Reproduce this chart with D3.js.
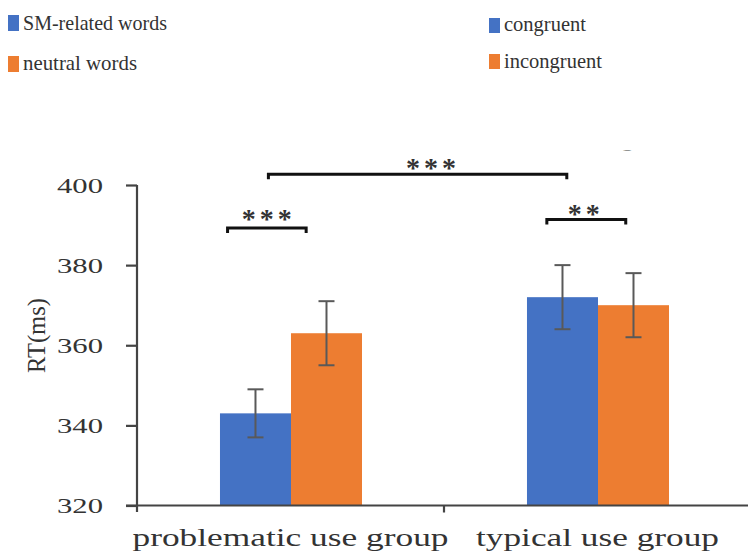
<!DOCTYPE html>
<html>
<head>
<meta charset="utf-8">
<script src="https://cdn.jsdelivr.net/npm/d3@7"></script>
<style>
  html, body { margin: 0; padding: 0; background: #fff; }
  svg { display: block; }
  text { font-family: "Liberation Serif", "DejaVu Serif", serif; fill: #333; }
</style>
</head>
<body>
<svg id="chart" width="748" height="553"></svg>
<script>
// ---- data ----
const groups = ["problematic use group", "typical use group"];
const seriesNames = ["SM-related words", "neutral words"];
const conditionNames = ["congruent", "incongruent"];
const blueValues = [343, 372];
const orangeValues = [363, 370];
const blueErrors = [6, 8];
const orangeErrors = [8, 8];
const yTicks = [320, 340, 360, 380, 400];
const colors = ["#4472C4", "#ED7D31"];
// significance brackets: group index + fraction of band, y in ms
const sigGroupA = [0, 1, 0];
const sigFracA = [0.295, 0.335, 0.428];
const sigGroupB = [0, 1, 1];
const sigFracB = [0.551, 0.592, 0.400];
const sigLevel = [389.25, 391.4, 402.7];
const sigLabels = ["***", "**", "***"];
const sigLabelShift = [0, -0.004, 0.022];
const sigLabelRaise = [0, 4, 3];

const svg = d3.select("#chart");

// ---- scales ----
const x = d3.scaleBand().domain(groups).range([137, 751]).paddingInner(0).paddingOuter(0);
const xSub = d3.scaleBand().domain([0, 1]).range([x.bandwidth() * 0.2703, x.bandwidth() * 0.7329]).padding(0);
const y = d3.scaleLinear().domain([320, 400]).range([505.5, 185]);

// ---- bars ----
const barData = [];
groups.forEach((g, i) => {
  barData.push({ g, s: 0, v: blueValues[i], e: blueErrors[i] });
  barData.push({ g, s: 1, v: orangeValues[i], e: orangeErrors[i] });
});

svg.append("g").selectAll("rect").data(barData).join("rect")
  .attr("x", d => x(d.g) + xSub(d.s))
  .attr("y", d => y(d.v))
  .attr("width", xSub.bandwidth())
  .attr("height", d => y(320) - y(d.v))
  .attr("fill", d => colors[d.s]);

// ---- error bars ----
const eb = svg.append("g").attr("stroke", "#595959").attr("stroke-width", 2);
barData.forEach(d => {
  const cx = x(d.g) + xSub(d.s) + xSub.bandwidth() / 2;
  eb.append("line").attr("x1", cx).attr("x2", cx).attr("y1", y(d.v + d.e)).attr("y2", y(d.v - d.e));
  eb.append("line").attr("x1", cx - 8).attr("x2", cx + 8).attr("y1", y(d.v + d.e)).attr("y2", y(d.v + d.e));
  eb.append("line").attr("x1", cx - 8).attr("x2", cx + 8).attr("y1", y(d.v - d.e)).attr("y2", y(d.v - d.e));
});

// ---- axes ----
const yAxis = svg.append("g").attr("transform", "translate(137,0)")
  .call(d3.axisLeft(y).tickValues(yTicks).tickSize(11).tickPadding(23).tickFormat(d3.format("d")));
yAxis.select(".domain").attr("stroke", "#444").attr("stroke-width", 2.2).attr("d", "M0,185V512");
yAxis.selectAll(".tick line").attr("stroke", "#444").attr("stroke-width", 2.2);
yAxis.selectAll(".tick text")
  .attr("font-size", 22).attr("fill", "#333")
  .attr("font-family", "Liberation Serif, serif")
  .attr("textLength", 46).attr("lengthAdjust", "spacingAndGlyphs");

const xAxis = svg.append("g").attr("transform", "translate(0,505.5)")
  .call(d3.axisBottom(x).tickSize(0).tickPadding(0));
xAxis.select(".domain").attr("stroke", "#444").attr("stroke-width", 2.2).attr("d", "M126,0H748");
xAxis.selectAll(".tick text").remove();
// band-boundary ticks
svg.append("g").selectAll("line").data([groups[1]]).join("line")
  .attr("x1", d => x(d)).attr("x2", d => x(d))
  .attr("y1", 505.5).attr("y2", 512.5)
  .attr("stroke", "#444").attr("stroke-width", 2.2);
// group labels
const xLabelLen = [316, 243];
svg.append("g").selectAll("text").data(groups).join("text")
  .attr("x", d => x(d) + x.bandwidth() / 2)
  .attr("y", 546)
  .attr("text-anchor", "middle")
  .attr("font-size", 26)
  .attr("fill", "#222")
  .attr("textLength", (d, i) => xLabelLen[i])
  .attr("lengthAdjust", "spacingAndGlyphs")
  .text(d => d);

// y-axis title
svg.append("text")
  .attr("transform", "translate(45,335.5) rotate(-90)")
  .attr("text-anchor", "middle")
  .attr("font-size", 25)
  .attr("fill", "#222")
  .attr("textLength", 75).attr("lengthAdjust", "spacingAndGlyphs")
  .text("RT(ms)");

// ---- significance brackets ----
const sg = svg.append("g");
sigLabels.forEach((lab, i) => {
  const xa = x(groups[sigGroupA[i]]) + x.bandwidth() * sigFracA[i];
  const xb = x(groups[sigGroupB[i]]) + x.bandwidth() * sigFracB[i];
  const yy = y(sigLevel[i]);
  sg.append("path")
    .attr("d", `M${xa},${yy + 5}V${yy}H${xb}V${yy + 5}`)
    .attr("fill", "none").attr("stroke", "#111").attr("stroke-width", 3);
  const mid = (xa + xb) / 2 + (x.range()[1] - x.range()[0]) * sigLabelShift[i];
  sg.append("text")
    .attr("x", mid).attr("y", yy + sigLabelRaise[i])
    .attr("dx", 2)
    .attr("text-anchor", "middle")
    .attr("font-family", "DejaVu Sans, sans-serif")
    .attr("font-weight", "bold")
    .attr("font-size", 28)
    .attr("letter-spacing", 4)
    .attr("fill", "#333")
    .text(lab);
});

// clipped remnant of a cropped title letter
svg.append("clipPath").attr("id", "clipG").append("rect").attr("x", 600).attr("y", 150.5).attr("width", 60).attr("height", 12);
svg.append("text").attr("clip-path", "url(#clipG)")
  .attr("x", 621).attr("y", 146).attr("font-size", 26).attr("fill", "#333").text("g");

// ---- legends ----
const leftLegend = svg.append("g");
const leftLegY = [15, 56];
const leftLegBase = [30, 70];
const leftLegLen = [144, 114];
seriesNames.forEach((n, i) => {
  leftLegend.append("rect").attr("x", 8).attr("y", leftLegY[i]).attr("width", 11).attr("height", 16).attr("fill", colors[i]);
  leftLegend.append("text").attr("x", 23).attr("y", leftLegBase[i]).attr("font-size", 21).attr("fill", "#222")
    .attr("textLength", leftLegLen[i]).attr("lengthAdjust", "spacingAndGlyphs").text(n);
});
const rightLegend = svg.append("g");
const rightLegY = [18, 54];
const rightLegBase = [31, 68];
const rightLegLen = [82, 98];
conditionNames.forEach((n, i) => {
  rightLegend.append("rect").attr("x", 489).attr("y", rightLegY[i]).attr("width", 11).attr("height", 15).attr("fill", colors[i]);
  rightLegend.append("text").attr("x", 504).attr("y", rightLegBase[i]).attr("font-size", 21).attr("fill", "#222")
    .attr("textLength", rightLegLen[i]).attr("lengthAdjust", "spacingAndGlyphs").text(n);
});
</script>
</body>
</html>
